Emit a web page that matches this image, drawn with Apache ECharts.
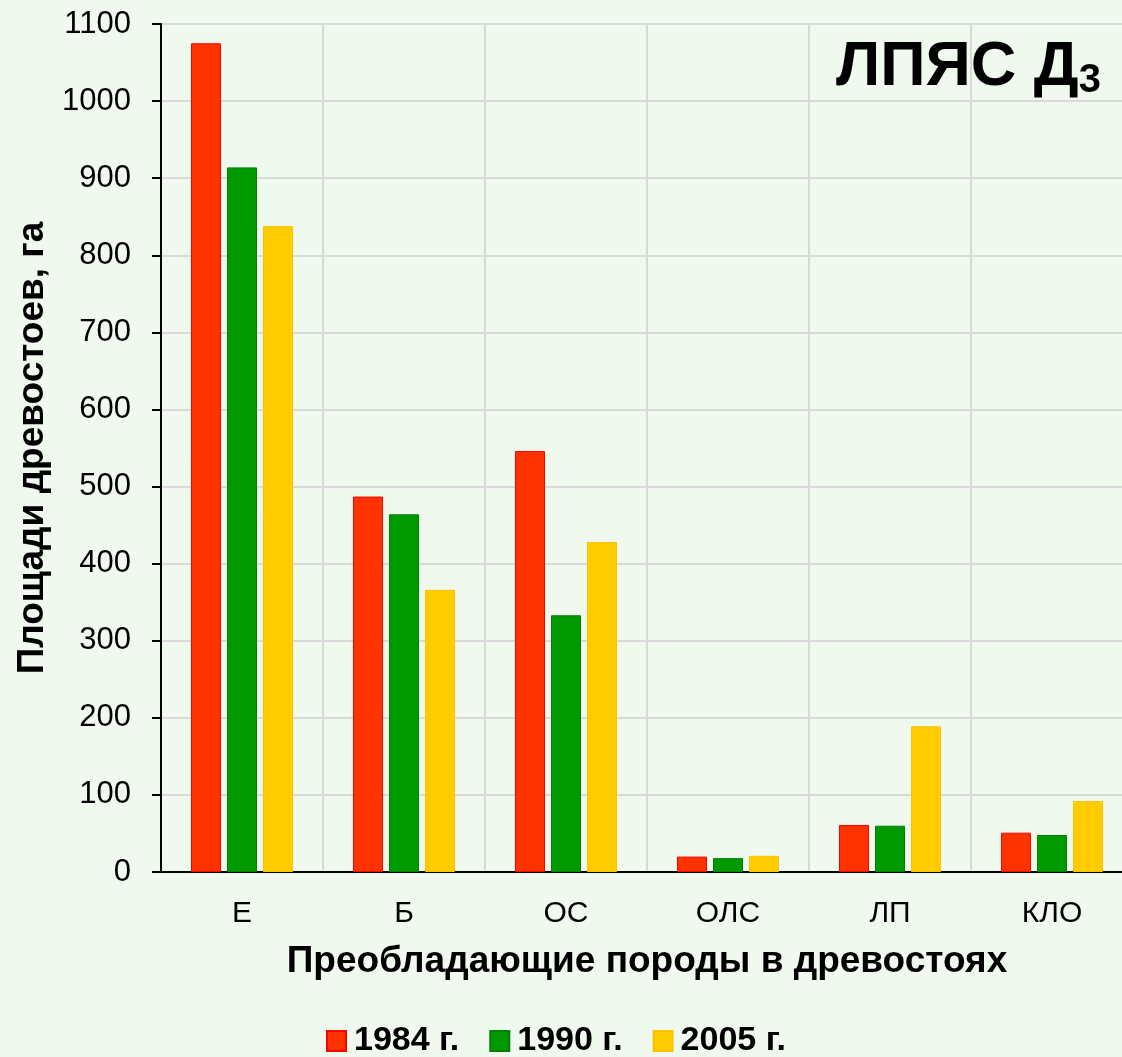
<!DOCTYPE html>
<html>
<head>
<meta charset="utf-8">
<script src="https://cdn.jsdelivr.net/npm/echarts@6/dist/echarts.min.js"></script>
<style>
  html, body { margin: 0; padding: 0; background: #eff9ee; overflow: hidden; }
  #main { width: 1133px; height: 1057px; }
</style>
</head>
<body>
<div id="main"></div>
<script>
// породы
const categories = ['Е', 'Б', 'ОС', 'ОЛС', 'ЛП', 'КЛО'];
const years = ['1984 г.', '1990 г.', '2005 г.'];
const values1984 = [1075, 487, 546, 20, 61, 51];
const values1990 = [914, 464, 333, 18, 60, 48];
const values2005 = [838, 366, 428, 21, 189, 92];

const font = '"Liberation Sans", Arial, sans-serif';
const chart = echarts.init(document.getElementById('main'));

function bar(name, data, fill, border) {
  return {
    name: name,
    type: 'bar',
    data: data,
    barWidth: 30,
    barGap: '20%',
    itemStyle: { color: fill, borderColor: border, borderWidth: 1 }
  };
}

const option = {
  backgroundColor: '#eff9ee',
  animation: false,
  title: {
    text: '{a|ЛПЯС Д}{b|3}',
    right: 27,
    top: 30,
    textStyle: {
      rich: {
        a: { fontFamily: font, fontSize: 63, fontWeight: 'bold', color: '#000' },
        b: { fontFamily: font, fontSize: 40, fontWeight: 'bold', color: '#000', padding: [26, 0, 0, 0] }
      }
    }
  },
  legend: {
    top: 1024,
    left: 326,
    padding: 0,
    icon: 'rect',
    itemWidth: 19,
    itemHeight: 20,
    itemGap: 30,
    textStyle: { fontFamily: font, fontSize: 34, fontWeight: 'bold', color: '#000', padding: [0, 0, 0, 3] },
    data: years
  },
  grid: { left: 161, right: 0, top: 24, bottom: 185, outerBoundsMode: 'none', containLabel: false },
  xAxis: {
    type: 'category',
    data: categories,
    name: 'Преобладающие породы в древостоях',
    nameLocation: 'middle',
    nameGap: 71,
    nameTextStyle: { fontFamily: font, fontSize: 37, fontWeight: 'bold', color: '#000' },
    axisLine: { lineStyle: { color: '#000', width: 2 } },
    axisTick: { length: 10, lineStyle: { color: '#000', width: 2 } },
    axisLabel: { fontFamily: font, fontSize: 30, color: '#000', margin: 27 },
    splitLine: { show: true, lineStyle: { color: '#d9d9d9', width: 2 } }
  },
  yAxis: {
    type: 'value',
    min: 0,
    max: 1100,
    interval: 100,
    name: 'Площади древостоев, га',
    nameLocation: 'middle',
    nameGap: 108,
    nameTextStyle: { fontFamily: font, fontSize: 37, fontWeight: 'bold', color: '#000' },
    axisLine: { show: true, lineStyle: { color: '#000', width: 2 } },
    axisTick: { show: true, length: 9, lineStyle: { color: '#000', width: 2 } },
    axisLabel: { fontFamily: font, fontSize: 31, color: '#000', margin: 30, formatter: function (v) { return String(v); } },
    splitLine: { lineStyle: { color: '#d9d9d9', width: 2 } }
  },
  series: [
    bar(years[0], values1984, '#ff3300', '#ff0000'),
    bar(years[1], values1990, '#009900', '#008000'),
    bar(years[2], values2005, '#ffcc00', '#ffc000')
  ]
};
chart.setOption(option);
</script>
</body>
</html>
